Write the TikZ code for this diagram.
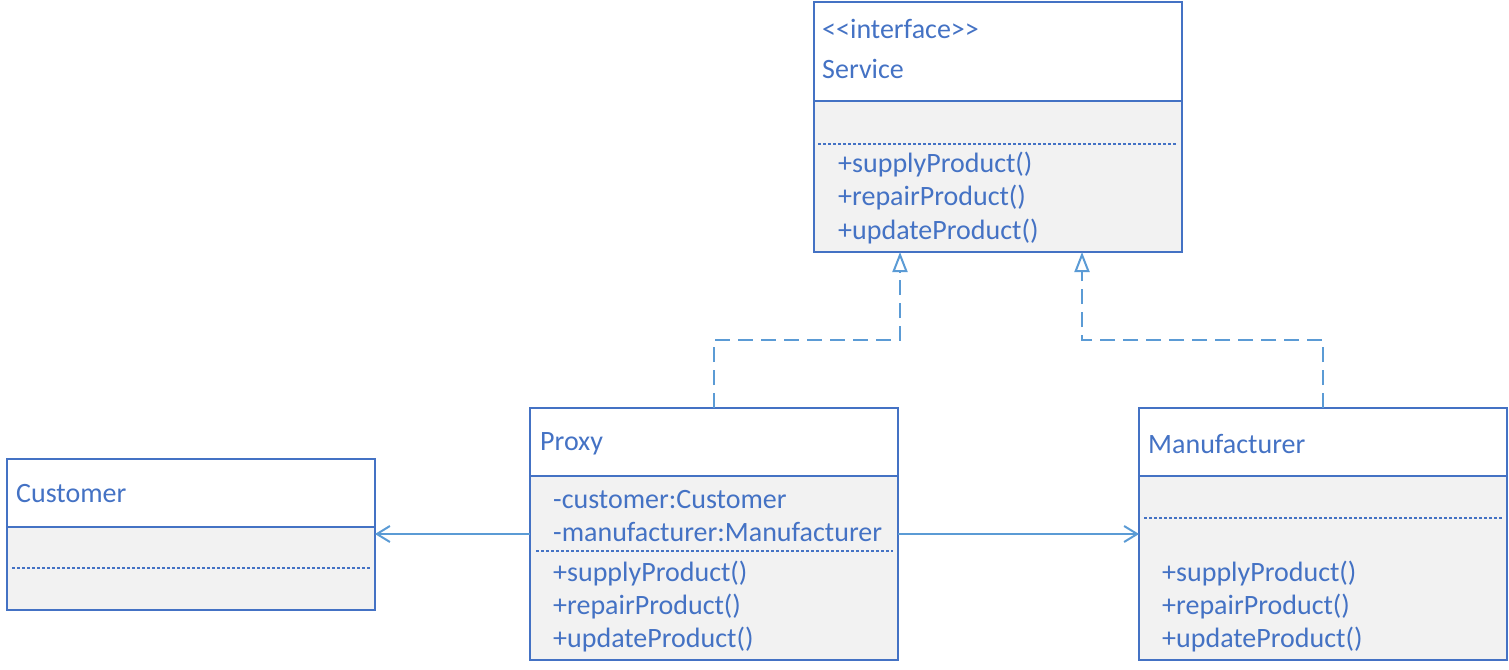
\documentclass[tikz,border=0pt]{standalone}
\usepackage{fontspec}
\setmainfont[Ligatures=NoCommon]{Carlito}
\usetikzlibrary{arrows.meta,calc}
\definecolor{boxblue}{HTML}{4472C4}
\definecolor{linkblue}{HTML}{5B9BD5}
\definecolor{bodygray}{HTML}{F2F2F2}
\tikzset{
  classbox/.style={draw=boxblue, line width=2pt, inner sep=0pt, outer sep=0pt, minimum width=368pt},
  bodyfill/.style={fill=bodygray},
  divider/.style={draw=boxblue, line width=2pt},
  sepline/.style={draw=boxblue, line width=1.4pt, dash pattern=on 3pt off 2pt},
  txt/.style={text=boxblue, anchor=west, inner sep=0pt, yshift=-1.5pt, font=\fontsize{28}{32}\selectfont},
  assoc/.style={draw=linkblue, line width=2pt, -{Straight Barb[length=13pt,width=16pt,line width=2pt]}},
  realize/.style={draw=linkblue, line width=2pt, dash pattern=on 15pt off 8pt,
    -{Triangle[open,length=20pt,width=15pt,line width=2pt]}}
}
\begin{document}
\begin{tikzpicture}[x=1pt,y=-1pt]
\useasboundingbox (0,0) rectangle (1509,669);
% bodies
\path[bodyfill] (814,101) rectangle (1182,252);
\path[bodyfill] (530,476) rectangle (898,660);
\path[bodyfill] (1139,476) rectangle (1507,660);
\path[bodyfill] (7,527) rectangle (375,610);
% boxes
\node[classbox, minimum height=250pt] (svc) at (998,127) {};
\node[classbox, minimum height=252pt] (proxy) at (714,534) {};
\node[classbox, minimum height=252pt] (mfr) at (1323,534) {};
\node[classbox, minimum height=151pt] (cust) at (191,534.5) {};
% dividers
\draw[divider] (814,101) -- (1182,101);
\draw[divider] (530,476) -- (898,476);
\draw[divider] (1139,476) -- (1507,476);
\draw[divider] (7,527) -- (375,527);
% dotted separators
\draw[sepline] (818,144) -- (1177,144);
\draw[sepline] (536,551) -- (893,551);
\draw[sepline] (1144,518) -- (1502,518);
\draw[sepline] (12,568) -- (370,568);
% Service texts
\node[txt] (t1) at (822,27) {{<}{<}interface{>}{>}};
\node[txt] (t2) at (822,67) {Service};
\node[txt] (t3) at (838,163) {+supplyProduct()};
\node[txt] (t4) at (838,196) {+repairProduct()};
\node[txt] (t5) at (838,230) {+updateProduct()};
% Proxy texts
\node[txt] (p1) at (540,442) {Proxy};
\node[txt] (p2) at (553,498) {-customer:Customer};
\node[txt] (p3) at (553,531) {-manufacturer:Manufacturer};
\node[txt] (p4) at (553,572) {+supplyProduct()};
\node[txt] (p5) at (553,605) {+repairProduct()};
\node[txt] (p6) at (553,638) {+updateProduct()};
% Manufacturer texts
\node[txt] (m1) at (1148,442) {Manufacturer};
\node[txt] (m4) at (1162,572) {+supplyProduct()};
\node[txt] (m5) at (1162,605) {+repairProduct()};
\node[txt] (m6) at (1162,638) {+updateProduct()};
% Customer texts
\node[txt] (c1) at (16,492) {Customer};
% connectors
\draw[assoc] (proxy.west) -- (cust.east |- proxy.west);
\draw[assoc] (proxy.east) -- (mfr.west);
\coordinate (sa) at ($(svc.south)+(-98,0)$);
\coordinate (sb) at ($(svc.south)+(84,0)$);
\draw[realize] (proxy.north) -- (714,340) -- (sa |- 0,340) -- (sa);
\draw[realize] (mfr.north) -- (1323,340) -- (sb |- 0,340) -- (sb);
\end{tikzpicture}
\end{document}
